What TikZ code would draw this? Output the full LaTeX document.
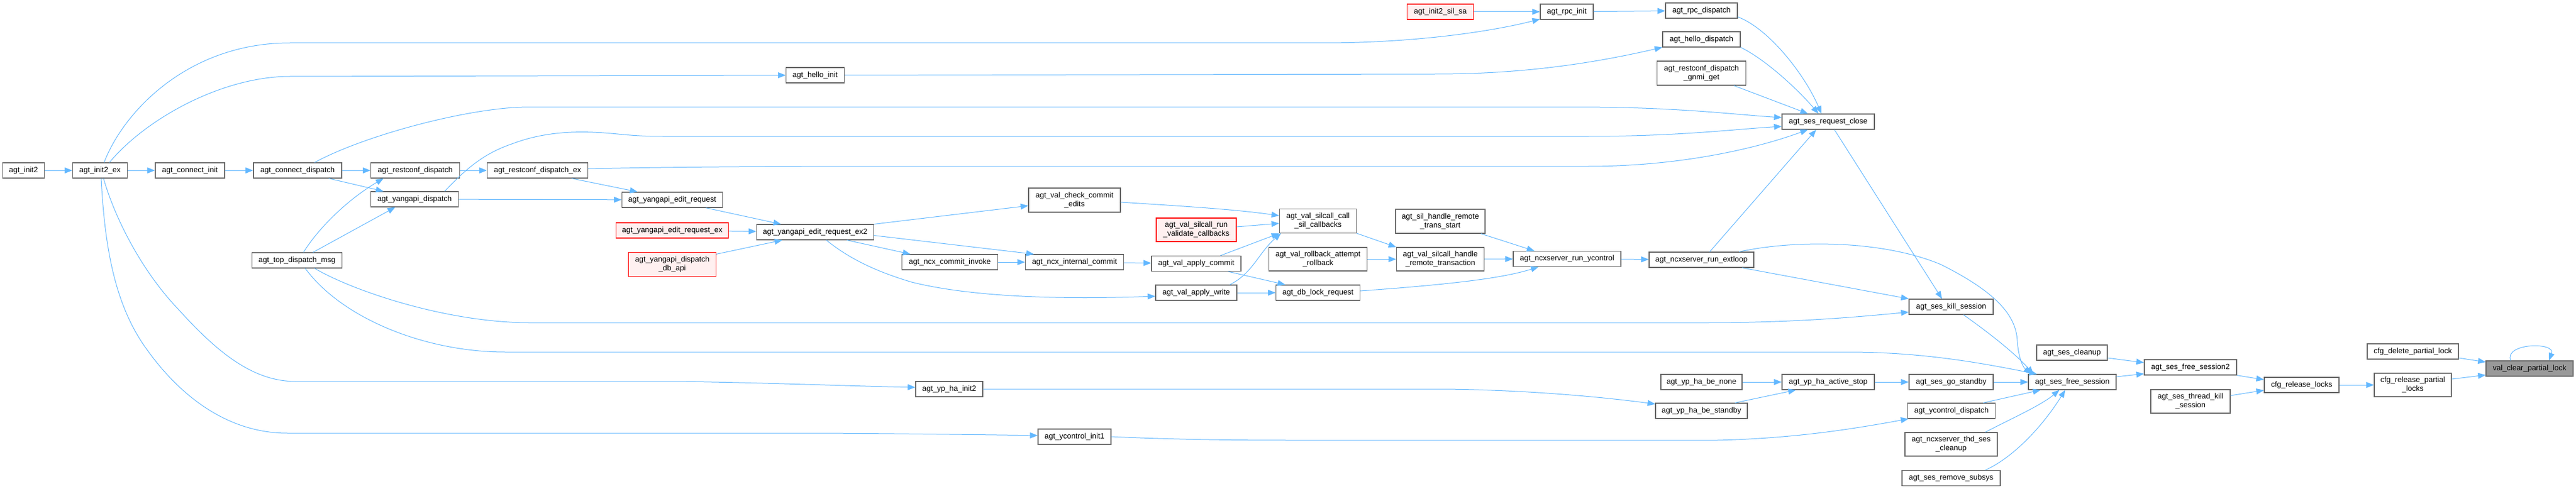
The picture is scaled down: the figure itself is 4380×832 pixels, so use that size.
\documentclass[tikz,border=0pt]{standalone}
\usepackage{fontspec}
\setmainfont{Liberation Sans}
\usetikzlibrary{arrows.meta}
\definecolor{edgeblue}{HTML}{63B8FF}
\definecolor{nodegray}{HTML}{666666}
\definecolor{rootfill}{HTML}{999999}
\definecolor{redfill}{HTML}{FFF0F0}
\newcommand\dxfont{\fontsize{13}{15}\selectfont}
\tikzset{
  x=1pt,y=-1pt,
  box/.style={draw=nodegray, line width=1.2pt, fill=white, minimum height=26pt,
    inner xsep=2pt, inner ysep=2pt, font=\dxfont, text=black},
  tbox/.style={box, minimum height=41pt, align=center},
  redbox/.style={draw=red, fill=redfill},
  rootbox/.style={fill=rootfill},
  edge/.style={draw=edgeblue, line width=1pt, -{Triangle[length=13pt,width=10pt]}}
}
\begin{document}
\begin{tikzpicture}
\useasboundingbox[fill=white] (0,0) rectangle (4380,832);
% nodes
\node[box, minimum width=71pt] (init2) at (40,290) {agt\_init2};
\node[box, minimum width=93pt] (init2ex) at (170,290) {agt\_init2\_ex};
\node[box, minimum width=118pt] (coninit) at (323,290) {agt\_connect\_init};
\node[box, minimum width=150pt] (condisp) at (506,290) {agt\_connect\_dispatch};
\node[box, minimum width=151pt] (restdisp) at (706,290) {agt\_restconf\_dispatch};
\node[box, minimum width=149pt] (yangdisp) at (705,339) {agt\_yangapi\_dispatch};
\node[box, minimum width=153pt] (topdisp) at (505,443) {agt\_top\_dispatch\_msg};
\node[box, minimum width=99pt] (helloinit) at (1386,128) {agt\_hello\_init};
\node[box, minimum width=171pt] (restdispex) at (914,290) {agt\_restconf\_dispatch\_ex};
\node[box, minimum width=171pt] (yeditreq) at (1143,340) {agt\_yangapi\_edit\_request};
\node[box, redbox, minimum width=191pt] (yeditreqex) at (1143,392) {agt\_yangapi\_edit\_request\_ex};
\node[box, minimum width=199pt] (ex2) at (1386,395) {agt\_yangapi\_edit\_request\_ex2};
\node[tbox, redbox, minimum width=149pt] (dbapi) at (1143,450) {agt\_yangapi\_dispatch\\\_db\_api};
\node[tbox, minimum width=156pt] (checkcommit) at (1827,340.5) {agt\_val\_check\_commit\\\_edits};
\node[tbox, redbox, minimum width=136pt, minimum height=40pt] (runval) at (2034,391) {agt\_val\_silcall\_run\\\_validate\_callbacks};
\node[tbox, minimum width=131pt] (silcall) at (2241,376) {agt\_val\_silcall\_call\\\_sil\_callbacks};
\node[box, minimum width=163pt] (commitinvoke) at (1615,446) {agt\_ncx\_commit\_invoke};
\node[box, minimum width=167pt] (intcommit) at (1827,446) {agt\_ncx\_internal\_commit};
\node[box, minimum width=152pt] (applycommit) at (2034,448.5) {agt\_val\_apply\_commit};
\node[box, minimum width=138pt] (applywrite) at (2034,498) {agt\_val\_apply\_write};
\node[box, minimum width=114pt] (ypinit2) at (1614,662) {agt\_yp\_ha\_init2};
\node[box, minimum width=124pt] (ycinit1) at (1827,743) {agt\_ycontrol\_init1};
\node[tbox, minimum width=167pt, minimum height=40pt] (rollback) at (2241,441) {agt\_val\_rollback\_attempt\\\_rollback};
\node[box, minimum width=143pt] (dblock) at (2241,498) {agt\_db\_lock\_request};
\node[box, redbox, minimum width=113pt] (silsa) at (2449,20) {agt\_init2\_sil\_sa};
\node[box, minimum width=90pt] (rpcinit) at (2664,20) {agt\_rpc\_init};
\node[box, minimum width=122pt] (rpcdisp) at (2893,18) {agt\_rpc\_dispatch};
\node[box, minimum width=132pt] (hellodisp) at (2893,67) {agt\_hello\_dispatch};
\node[tbox, minimum width=151pt] (gnmi) at (2893,124.5) {agt\_restconf\_dispatch\\\_gnmi\_get};
\node[tbox, minimum width=152pt] (transstart) at (2449,376.5) {agt\_sil\_handle\_remote\\\_trans\_start};
\node[tbox, minimum width=149pt, minimum height=40pt] (handleremote) at (2449,441) {agt\_val\_silcall\_handle\\\_remote\_transaction};
\node[box, minimum width=183pt] (runyc) at (2664.5,440.5) {agt\_ncxserver\_run\_ycontrol};
\node[box, minimum width=178pt] (extloop) at (2893,442) {agt\_ncxserver\_run\_extloop};
\node[box, minimum width=138pt] (benone) at (2893,650) {agt\_yp\_ha\_be\_none};
\node[box, minimum width=156pt] (bestandby) at (2893,699) {agt\_yp\_ha\_be\_standby};
\node[box, minimum width=157pt] (reqclose) at (3108.5,207) {agt\_ses\_request\_close};
\node[box, minimum width=143pt] (killsess) at (3317.5,522) {agt\_ses\_kill\_session};
\node[box, minimum width=120pt] (cleanup) at (3523,600) {agt\_ses\_cleanup};
\node[box, minimum width=149pt] (freesess) at (3523.5,650) {agt\_ses\_free\_session};
\node[box, minimum width=157pt] (activestop) at (3108.5,650) {agt\_yp\_ha\_active\_stop};
\node[box, minimum width=143pt] (gostandby) at (3317.5,650) {agt\_ses\_go\_standby};
\node[box, minimum width=149pt] (ycdisp) at (3318,699) {agt\_ycontrol\_dispatch};
\node[tbox, minimum width=157pt, minimum height=40pt] (thdcleanup) at (3317.5,756) {agt\_ncxserver\_thd\_ses\\\_cleanup};
\node[box, minimum width=167pt] (removesub) at (3317.5,813.5) {agt\_ses\_remove\_subsys};
\node[box, minimum width=157pt] (freesess2) at (3724.5,625) {agt\_ses\_free\_session2};
\node[tbox, minimum width=135pt, minimum height=40pt] (threadkill) at (3724.5,683) {agt\_ses\_thread\_kill\\\_session};
\node[box, minimum width=127pt] (cfgrel) at (3913.5,655) {cfg\_release\_locks};
\node[box, minimum width=155pt] (cfgdel) at (4102.5,598) {cfg\_delete\_partial\_lock};
\node[tbox, minimum width=131pt, minimum height=40pt] (cfgrelpartial) at (4102.5,655) {cfg\_release\_partial\\\_locks};
\node[box, rootbox, minimum width=148pt] (root) at (4301,627) {val\_clear\_partial\_lock};
% edges
\draw[edge] (init2) -- (init2ex);
\draw[edge] (init2ex) -- (coninit);
\draw[edge] (coninit) -- (condisp);
\draw[edge] (condisp) -- (restdisp);
\draw[edge] ([xshift=53pt]condisp.south) -- ([xshift=-53pt]yangdisp.north);
\draw[edge] ([xshift=11pt]topdisp.north) .. controls (540,390) and (590,340) .. ([xshift=-54pt]restdisp.south);
\draw[edge] ([xshift=27pt]topdisp.north) -- ([xshift=-33pt]yangdisp.south);
\draw[edge] (restdisp) -- (restdispex);
\draw[edge] ([xshift=58pt]restdispex.south) -- ([xshift=-59pt]yeditreq.north);
\draw[edge] (yangdisp) -- (yeditreq);
\draw[edge] ([xshift=57pt]yeditreq.south) -- ([xshift=-58pt]ex2.north);
\draw[edge] (yeditreqex) -- (ex2);
\draw[edge] ([yshift=-3.5pt]dbapi.north east) -- ([xshift=-56pt]ex2.south);
\draw[edge] (ex2.north east) -- ([yshift=-9.5pt]checkcommit.west);
\draw[edge] ([xshift=54pt]ex2.south) -- ([xshift=-67pt]commitinvoke.north);
\draw[edge] ([yshift=8pt]ex2.south east) -- ([xshift=-69pt]intcommit.north);
\draw[edge] ([xshift=19pt]ex2.south) .. controls (1450,445) and (1500,465) .. (1550,480) .. controls (1650,505) and (1800,510) .. ([yshift=-6pt]applywrite.west);
\draw[edge] (commitinvoke) -- (intcommit);
\draw[edge] (intcommit) -- (applycommit);
\draw[edge] ([xshift=41pt]applycommit.north) -- (silcall.south west);
\draw[edge] ([xshift=54.5pt]applycommit.south) -- ([xshift=16.5pt]dblock.north west);
\draw[edge] (applywrite) -- (dblock);
\draw[edge] ([xshift=57pt]applywrite.north) .. controls (2130,465) and (2140,430) .. ([xshift=-63pt]silcall.south);
\draw[edge] ([yshift=-3.5pt]checkcommit.east) .. controls (2000,350) and (2100,356) .. ([yshift=9pt]silcall.west);
\draw[edge] ([yshift=5pt]runval.east) -- ([yshift=-4pt]silcall.west);
\draw[edge] (silcall.south east) -- (handleremote.north west);
\draw[edge] (rollback) -- (handleremote);
\draw[edge] (handleremote) -- (runyc);
\draw[edge] ([xshift=69pt]transstart.south) -- ([xshift=-55.5pt]runyc.north);
\draw[edge] ([yshift=3pt]dblock.east) .. controls (2450,485) and (2550,475) .. ([xshift=-48.5pt]runyc.south);
\draw[edge] (runyc) -- (extloop);
\draw[edge] (silsa) -- (rpcinit);
\draw[edge] (rpcinit) -- (rpcdisp);
\draw[edge] ([xshift=7pt]init2ex.north) .. controls (210,190) and (320,73) .. (493,73) -- (2250,73) .. controls (2400,73) and (2530,55) .. ([yshift=1pt]rpcinit.south west);
\draw[edge] ([xshift=16pt]init2ex.north) .. controls (250,200) and (380,130) .. (493,130) -- (helloinit.west);
\draw[edge] (helloinit.east) -- (2440,126) .. controls (2600,126) and (2720,105) .. (hellodisp.south west);
\draw[edge] ([yshift=3pt]rpcdisp.south east) .. controls (3010,50) and (3070,130) .. ([xshift=-11.5pt]reqclose.north);
\draw[edge] (hellodisp.south east) .. controls (3000,100) and (3055,150) .. ([xshift=-16.5pt]reqclose.north);
\draw[edge] ([xshift=55pt]gnmi.south) -- ([xshift=-34.5pt]reqclose.north);
\draw[edge] ([xshift=29pt]condisp.north) .. controls (620,230) and (800,182) .. (900,182) -- (2680,182) .. controls (2850,182) and (2950,195) .. ([yshift=7pt]reqclose.west);
\draw[edge] ([xshift=51pt]yangdisp.north) .. controls (790,290) and (820,262) .. (870,245) .. controls (930,222) and (990,222) .. (1050,228) .. controls (1090,232) and (1110,232) .. (1130,232) -- (2700,232) .. controls (2850,232) and (2950,220) .. ([yshift=-8pt]reqclose.west);
\draw[edge] ([yshift=3pt]restdispex.east) .. controls (1200,283) and (1400,283) .. (1600,283) -- (2700,283) .. controls (2850,283) and (2980,255) .. ([xshift=-34.5pt]reqclose.south);
\draw[edge] ([xshift=14pt]extloop.north) -- ([xshift=-20.5pt]reqclose.south);
\draw[edge] ([xshift=10.5pt]reqclose.south) -- ([xshift=-15.5pt]killsess.north);
\draw[edge] ([xshift=69pt]extloop.south) -- (killsess.north west);
\draw[edge] ([xshift=64pt]extloop.north) .. controls (3050,408) and (3200,408) .. (3300,450) .. controls (3400,500) and (3428,540) .. (3430,580) .. controls (3432,610) and (3440,625) .. ([xshift=-70pt]freesess.north);
\draw[edge] ([xshift=30pt]topdisp.south) .. controls (600,495) and (760,549) .. (900,549) -- (2900,549) .. controls (3050,549) and (3150,540) .. ([yshift=-9pt]killsess.west);
\draw[edge] ([xshift=14pt]topdisp.south) .. controls (580,540) and (720,599) .. (860,599) -- (3150,599) .. controls (3280,600) and (3380,620) .. ([xshift=-60pt]freesess.north);
\draw[edge] ([xshift=21pt]killsess.south) .. controls (3380,565) and (3425,600) .. ([xshift=-66pt]freesess.north);
\draw[edge] (gostandby) -- (freesess);
\draw[edge] ([xshift=54pt]ycdisp.north) -- ([xshift=-54pt]freesess.south);
\draw[edge] ([xshift=58pt]thdcleanup.north) .. controls (3420,712) and (3470,690) .. ([xshift=-22pt]freesess.south);
\draw[edge] ([xshift=58pt]removesub.north) .. controls (3420,780) and (3470,730) .. ([xshift=-12pt]freesess.south);
\draw[edge] (benone) -- (activestop);
\draw[edge] ([xshift=57pt]bestandby.north) -- ([xshift=-55pt]activestop.south);
\draw[edge] (activestop) -- (gostandby);
\draw[edge] (ypinit2.east) -- (2460,662) .. controls (2600,664) and (2720,675) .. ([yshift=-2pt]bestandby.north west);
\draw[edge] (ycinit1.east) .. controls (2000,748) and (2100,749) .. (2200,749) -- (2920,749) .. controls (3050,746) and (3150,730) .. ([xshift=2pt]ycdisp.south west);
\draw[edge] ([xshift=6pt]init2ex.south) .. controls (195,370) and (240,460) .. (303,526) .. controls (370,600) and (430,649) .. (503,649) -- (1150,649) .. controls (1300,651) and (1450,657) .. ([yshift=3pt]ypinit2.west);
\draw[edge] ([xshift=2pt]init2ex.south) .. controls (178,420) and (195,520) .. (250,595) .. controls (300,665) and (380,737) .. (489,737) -- (1400,737) .. controls (1550,738) and (1700,740) .. ([yshift=2pt]ycinit1.west);
\draw[edge] ([yshift=9pt]freesess.east) -- ([yshift=-11pt]freesess2.west);
\draw[edge] ([yshift=-9pt]cleanup.east) -- ([yshift=8pt]freesess2.west);
\draw[edge] (freesess2.south east) -- ([yshift=9pt]cfgrel.west);
\draw[edge] ([yshift=10pt]threadkill.east) -- ([yshift=-9pt]cfgrel.west);
\draw[edge] (cfgrel) -- (cfgrelpartial);
\draw[edge] ([yshift=-11pt]cfgdel.east) -- ([yshift=11pt]root.west);
\draw[edge] ([yshift=10pt]cfgrelpartial.east) -- ([yshift=-11pt]root.west);
\draw[edge] ([xshift=-32pt]root.north) .. controls +(-12,-30) and +(12,-32) .. ([xshift=33pt]root.north);
\end{tikzpicture}
\end{document}
